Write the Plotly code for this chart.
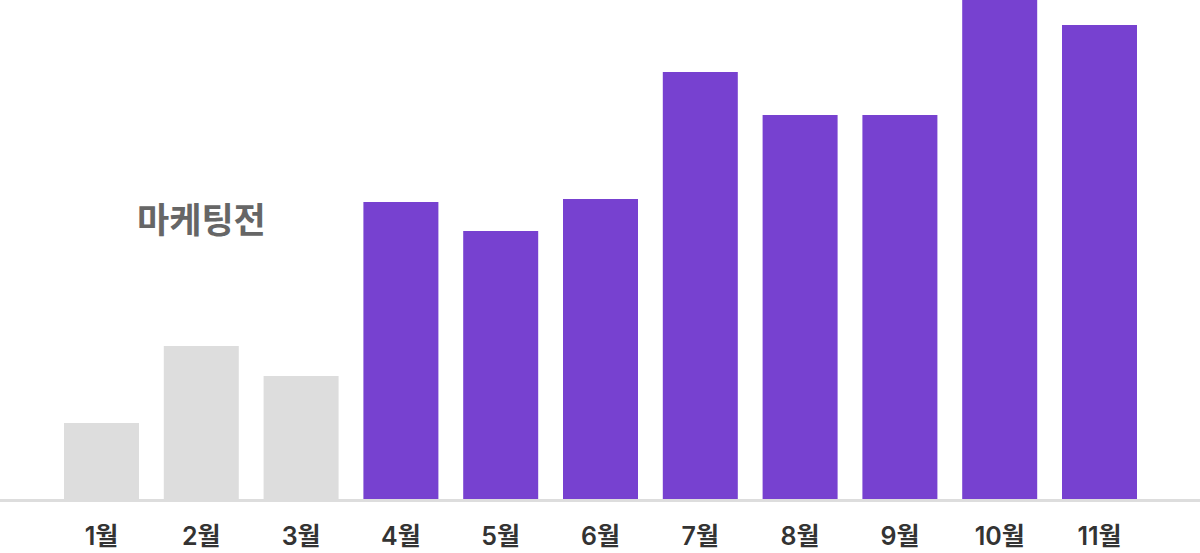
import plotly.graph_objects as go

months = ["1월", "2월", "3월", "4월", "5월", "6월", "7월", "8월", "9월", "10월", "11월"]
values = [76, 153, 123, 297, 268, 300, 427, 384, 384, 520, 474]
before_marketing = [True, True, True, False, False, False, False, False, False, False, False]

colors = ["#dddddd" if b else "#7741d0" for b in before_marketing]

fig = go.Figure(go.Bar(
    x=months, y=values, marker=dict(color=colors, line=dict(width=0)),
    width=0.7515, hoverinfo="skip",
))

fig.add_annotation(
    x=1.0, y=282, xref="x", yref="y", text="마케팅전", showarrow=False,
    font=dict(family="Noto Sans CJK KR", size=35, color="#666666", weight=700),
    xanchor="center", yanchor="middle",
)

fig.update_layout(
    width=1200, height=553,
    margin=dict(l=0, r=0, t=0, b=54),
    paper_bgcolor="white", plot_bgcolor="white",
    showlegend=False,
    bargap=0.25,
    xaxis=dict(
        type="category", range=[-1.017, 11.007],
        showgrid=False, zeroline=False,
        showline=True, linecolor="#dddddd", linewidth=3,
        ticks="", tickfont=dict(family="Inter, Noto Sans CJK KR", size=25, color="#333333", weight=600),
        ticklabelstandoff=13,
    ),
    yaxis=dict(range=[0, 499], visible=False, showgrid=False, zeroline=False, fixedrange=True),
)

fig.write_html("out.html", config={"displayModeBar": False},
               post_script="document.body.style.margin='0';")
